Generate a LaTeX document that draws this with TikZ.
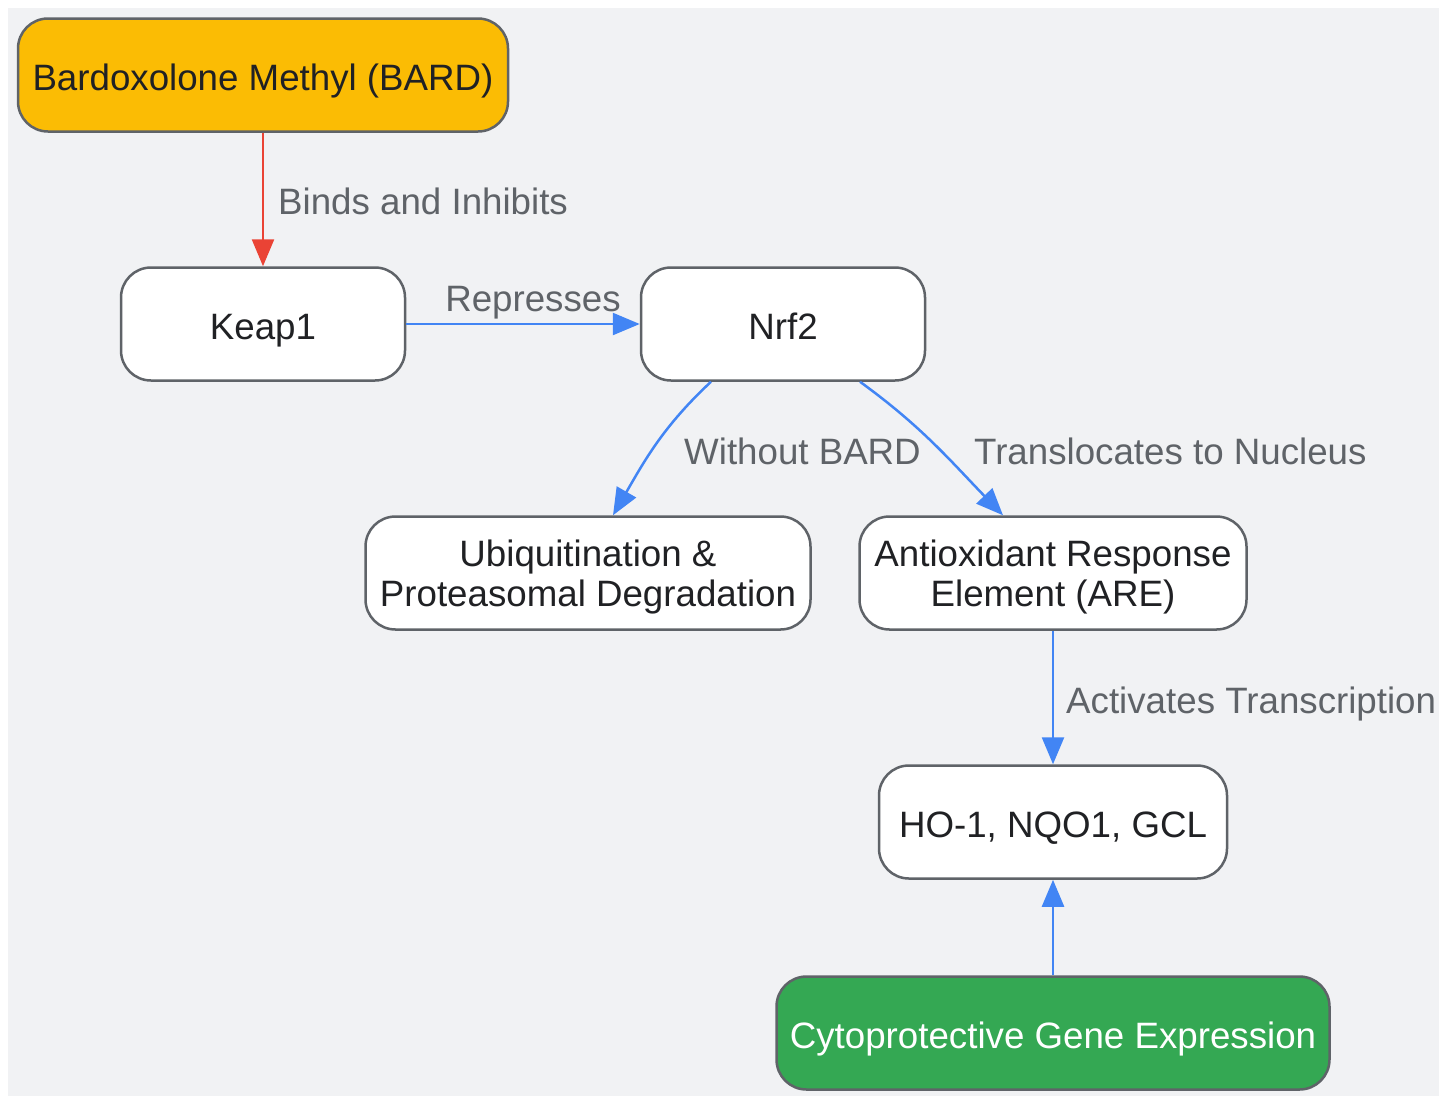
\documentclass[tikz,border=0pt]{standalone}
\usepackage{fontspec}
\setmainfont{Liberation Sans}
\usepackage{xcolor}
\usepackage{tikz}
\usetikzlibrary{arrows.meta, positioning}

\definecolor{canvas}{HTML}{F1F2F4}
\definecolor{boxline}{HTML}{5F6368}
\definecolor{boxtext}{HTML}{202124}
\definecolor{lbltext}{HTML}{5F6368}
\definecolor{bardfill}{HTML}{FBBC04}
\definecolor{genefill}{HTML}{34A853}
\definecolor{inhibred}{HTML}{EA4335}
\definecolor{pathblue}{HTML}{4285F4}

\begin{document}
\begin{tikzpicture}[x=1pt,y=1pt]
        \useasboundingbox (0,0) rectangle (1448,-1096);
        \fill[canvas] (8,-8) rectangle (1439,-1096);
        \begin{scope}[every node/.style={draw=boxline,line width=2.5pt,rounded corners=30pt,fill=white,
            minimum height=113pt,align=center,text=boxtext,text height=36pt,text depth=6pt,
            font=\fontsize{36.7}{40}\selectfont}]
          \node[fill=bardfill,minimum width=490pt] (bard) at (263,-75) {Bardoxolone Methyl (BARD)};
          \node[minimum width=284pt] (keap) at (263,-324) {Keap1};
          \node[minimum width=284pt] (nrf) at (783,-324) {Nrf2};
          \node[minimum width=445pt,text height=,text depth=-2pt] (ubiq) at (588,-573) {Ubiquitination \&\\Proteasomal Degradation};
          \node[minimum width=387pt,text height=,text depth=-2pt] (are) at (1053,-573) {Antioxidant Response\\Element (ARE)};
          \node[minimum width=348pt] (genes) at (1053,-822) {HO-1, NQO1, GCL};
          \node[fill=genefill,text=white,minimum width=553pt] (cyto) at (1053,-1033) {Cytoprotective Gene Expression};
        \end{scope}
        \begin{scope}[every edge/.style={draw=pathblue,line width=2.5pt,-{Triangle[length=27pt,width=22pt]}}]
          \path (bard) edge[draw=inhibred] (keap);
          \path (keap) edge (nrf);
          \path ([xshift=-72pt]nrf.south) edge[out=-137,in=60] ([xshift=25pt]ubiq.north);
          \path ([xshift=77pt]nrf.south) edge[out=-36,in=134] ([xshift=-50pt]are.north);
          \path (are) edge (genes);
          \path (cyto) edge (genes);
        \end{scope}
        \begin{scope}[every node/.style={inner sep=0pt,text=lbltext,font=\fontsize{36.7}{40}\selectfont}]
          \node[anchor=base west] (lbinds) at (278,-214) {Binds and Inhibits};
          \node[anchor=base] (lrepr) at (533,-311) {Represses};
          \node[anchor=base west] (lwithout) at (684,-464) {Without BARD};
          \node[anchor=base west] (ltrans) at (974,-464) {Translocates to Nucleus};
          \node[anchor=base west] (lact) at (1066,-713) {Activates Transcription};
        \end{scope}
      \end{tikzpicture}
\end{document}
